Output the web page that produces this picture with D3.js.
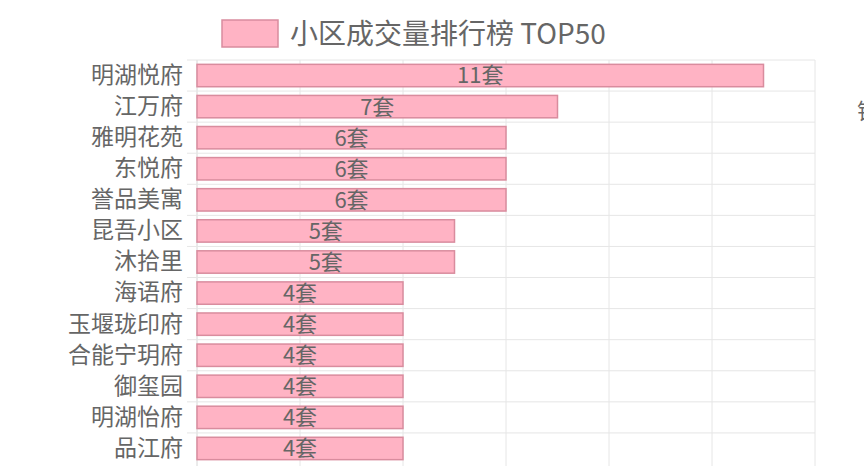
<!DOCTYPE html>
<html>
<head>
<meta charset="utf-8">
<script src="https://cdn.jsdelivr.net/npm/d3@7"></script>
<style>
  html, body { margin: 0; padding: 0; background: #fff; overflow: hidden; }
  svg { display: block; font-family: "Noto Sans CJK SC", "Noto Sans", sans-serif; }
</style>
</head>
<body>
<div id="chart"></div>
<script>
// data (only the rows visible in the picture)
var communities = ["明湖悦府", "江万府", "雅明花苑", "东悦府", "誉品美寓", "昆吾小区", "沐拾里",
                   "海语府", "玉堰珑印府", "合能宁玥府", "御玺园", "明湖怡府", "品江府"];
var deals = [11, 7, 6, 6, 6, 5, 5, 4, 4, 4, 4, 4, 4];
var legendLabel = "小区成交量排行榜 TOP50";
var xTicks = [0, 2, 4, 6, 8, 10, 12];

(function () {
    var W = 864, H = 466;
    var margin = {left: 197, right: 815, top: 60, bottom: 464};

    var svg = d3.select("#chart").append("svg").attr("width", W).attr("height", H);

    var x = d3.scaleLinear().domain([0, 12]).range([margin.left, margin.right]);
    var y = d3.scaleBand().domain(communities).range([margin.top, margin.bottom])
        .paddingInner(0.28).paddingOuter(0.14);

    var gap = y.step() * y.paddingInner() / 2;

    // grid
    var grid = svg.append("g").attr("class", "grid");
    grid.selectAll(".vline").data(xTicks).enter().append("line")
        .attr("class", "vline")
        .attr("x1", function(d){ return x(d); })
        .attr("x2", function(d){ return x(d); })
        .attr("y1", margin.top).attr("y2", H)
        .attr("stroke", function(d){ return d === 0 ? "#d6d6d6" : "#e6e6e6"; })
        .attr("stroke-width", 1);

    grid.selectAll(".hline").data(communities).enter().append("line")
        .attr("class", "hline")
        .attr("x1", margin.left - 10).attr("x2", margin.right)
        .attr("y1", function(d){ return y(d) - gap; })
        .attr("y2", function(d){ return y(d) - gap; })
        .attr("stroke", "#e6e6e6")
        .attr("stroke-width", 1);

    // bars
    svg.selectAll(".bar").data(communities).enter().append("rect")
        .attr("class", "bar")
        .attr("x", x(0))
        .attr("y", function(d){ return y(d); })
        .attr("width", function(d, i){ return x(deals[i]) - x(0); })
        .attr("height", y.bandwidth())
        .attr("fill", "#ffb3c4")
        .attr("stroke", "#d98c9e")
        .attr("stroke-width", 1.5);

    // value labels
    svg.selectAll(".val").data(communities).enter().append("text")
        .attr("class", "val")
        .attr("x", function(d, i){ return (x(0) + x(deals[i])) / 2; })
        .attr("y", function(d){ return y(d) + y.bandwidth() / 2; })
        .attr("dy", "0.36em")
        .attr("text-anchor", "middle")
        .attr("fill", "#666")
        .style("font-size", "22px")
        .text(function(d, i){ return deals[i] + "套"; });

    // category axis labels
    var yAxis = d3.axisLeft(y).tickSize(0).tickPadding(14);
    var ya = svg.append("g").attr("transform", "translate(" + margin.left + ",0)").call(yAxis);
    ya.select(".domain").remove();
    ya.selectAll("text").attr("fill", "#666").style("font-size", "23px")
        .style("font-family", "'Noto Sans CJK SC', sans-serif");

    // legend
    var lg = svg.append("g").attr("class", "legend");
    lg.append("rect")
        .attr("x", 222).attr("y", 20).attr("width", 56).attr("height", 27)
        .attr("fill", "#ffb3c4").attr("stroke", "#d98c9e").attr("stroke-width", 1.5);
    lg.append("text")
        .attr("x", 290).attr("y", 34).attr("dy", "0.36em")
        .attr("fill", "#666").style("font-size", "28px")
        .text(legendLabel);

    // clipped label at the right edge
    svg.append("text")
        .attr("x", 857).attr("y", 111).attr("dy", "0.36em")
        .attr("fill", "#666").style("font-size", "22px")
        .text("销");
})();
</script>
</body>
</html>
